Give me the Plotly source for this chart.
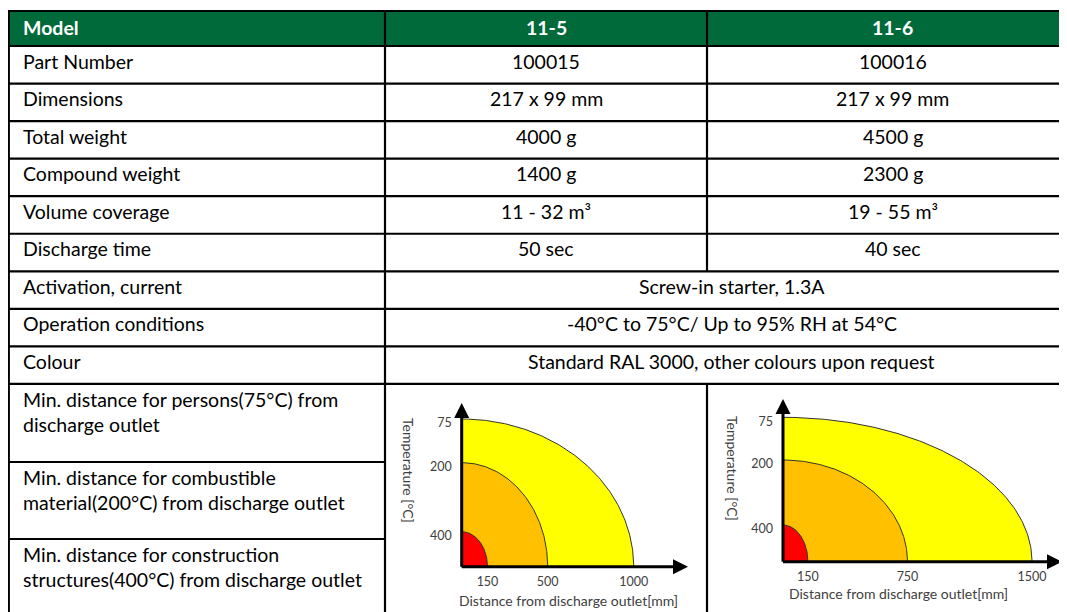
import numpy as np
import plotly.graph_objects as go

# ---------------- data ----------------
header = ["Model", "11-5", "11-6"]
row_labels = ["Part Number", "Dimensions", "Total weight", "Compound weight",
              "Volume coverage", "Discharge time"]
values_11_5 = ["100015", "217 x 99 mm", "4000 g", "1400 g", "11 - 32 m³", "50 sec"]
values_11_6 = ["100016", "217 x 99 mm", "4500 g", "2300 g", "19 - 55 m³", "40 sec"]
shared_labels = ["Activation, current", "Operation conditions", "Colour"]
shared_values = ["Screw-in starter, 1.3A",
                 "-40°C to 75°C/ Up to 95% RH at 54°C",
                 "Standard RAL 3000, other colours upon request"]
distance_labels = [
    ["Min. distance for persons(75°C) from", "discharge outlet"],
    ["Min. distance for combustible", "material(200°C) from discharge outlet"],
    ["Min. distance for construction", "structures(400°C) from discharge outlet"],
]
temp_levels = [400, 200, 75]                 # °C, inner -> outer zone
dist_11_5 = [150, 500, 1000]                 # mm
dist_11_6 = [150, 750, 1500]                 # mm
zone_height_11_5 = [0.21, 0.624, 0.886]      # schematic height (relative)
zone_height_11_6 = [0.22, 0.61, 0.866]
x_title = "Distance from discharge outlet[mm]"
y_title = "Temperature [°C]"

# ---------------- style / layout ----------------
W, H = 1067, 612
OFF = 8                 # page body margin: figure origin sits at screen (8, 8)
FONT = "Lato"
FS = 19.5
GREEN = "#016A3A"
zone_colors = ["#FF0000", "#FFC000", "#FFFF00"]
X0, X1, X2, X3 = 8.8, 385, 707, 1078
HEAD_TOP, HEAD_BOT = 11, 46
ROW_H = 37.55
n_rows = len(row_labels) + len(shared_labels)
CHART_TOP = HEAD_BOT + ROW_H * n_rows
SUB_TOPS = [CHART_TOP, 462, 539]
BOTTOM = 640

fig = go.Figure()

# base coordinate system in screen pixels for the table
fig.update_layout(
    xaxis=dict(range=[OFF, W + OFF], domain=[0, 1], visible=False, fixedrange=True),
    yaxis=dict(range=[H + OFF, OFF], domain=[0, 1], visible=False, fixedrange=True),
)

shapes = []
annotations = []

shapes.append(dict(type="rect", xref="x", yref="y", x0=X0, x1=X3, y0=HEAD_TOP, y1=HEAD_BOT,
                   fillcolor=GREEN, line=dict(width=0), layer="below"))

def hline(y, xa, xb):
    shapes.append(dict(type="line", xref="x", yref="y", x0=xa, x1=xb, y0=y, y1=y,
                       line=dict(color="black", width=2.2)))

def vline(x, ya, yb):
    shapes.append(dict(type="line", xref="x", yref="y", x0=x, x1=x, y0=ya, y1=yb,
                       line=dict(color="black", width=2.2)))

hline(HEAD_TOP, X0 - 1, X3)
hline(HEAD_BOT, X0 - 1, X3)
for i in range(1, n_rows + 1):
    hline(HEAD_BOT + ROW_H * i, X0 - 1, X3)
for y in SUB_TOPS[1:]:
    hline(y, X0 - 1, X1)
vline(X0, HEAD_TOP - 1, BOTTOM)
vline(X1, HEAD_TOP, BOTTOM)
vline(X2, HEAD_TOP, HEAD_BOT + ROW_H * len(row_labels))
vline(X2, CHART_TOP, BOTTOM)

def text(x, y, s, anchor="left", bold=False, color="black", size=FS):
    annotations.append(dict(x=x, y=y, xref="x", yref="y", text=f"<b>{s}</b>" if bold else s,
                            showarrow=False, xanchor=anchor, yanchor="middle",
                            font=dict(family=FONT, size=size, color=color)))

LX = 21
text(LX, HEAD_TOP + 16, header[0], bold=True, color="white")
text((X1 + X2) / 2, HEAD_TOP + 16, header[1], anchor="center", bold=True, color="white")
text((X2 + X3) / 2, HEAD_TOP + 16, header[2], anchor="center", bold=True, color="white")

for i, lab in enumerate(row_labels):
    yc = HEAD_BOT + ROW_H * i + 15
    text(LX, yc, lab)
    text((X1 + X2) / 2, yc, values_11_5[i], anchor="center")
    text((X2 + X3) / 2, yc, values_11_6[i], anchor="center")
for j, lab in enumerate(shared_labels):
    yc = HEAD_BOT + ROW_H * (len(row_labels) + j) + 15
    text(LX, yc, lab)
    text((X1 + X3) / 2, yc, shared_values[j], anchor="center")
for top, lines in zip(SUB_TOPS, distance_labels):
    for k, ln in enumerate(lines):
        text(LX, top + 15.5 + 25 * k, ln)

# ---------------- charts ----------------
def dom_x(a, b):
    return [max(0, (a - OFF) / W), min(1, (b - OFF) / W)]

def dom_y(top, bottom):
    return [max(0, 1 - (bottom - OFF) / H), min(1, 1 - (top - OFF) / H)]

charts = [
    dict(dist=dist_11_5, heights=zone_height_11_5, ox=461.7, oy=566.7, right=700,
         scale=0.172, tipx=688, tipy=403, xa="x2", ya="y2",
         ytitle=(409, 470), xtitle=(568, 600)),
    dict(dist=dist_11_6, heights=zone_height_11_6, ox=783, oy=561.7, right=1070,
         scale=0.166, tipx=1062, tipy=399, xa="x3", ya="y3",
         ytitle=(733, 468), xtitle=(898, 593)),
]
TICKC = "#404040"
t = np.linspace(0, np.pi / 2, 120)
for n, c in enumerate(charts, start=2):
    plot_h = 166.7
    xmax = (c["right"] - c["ox"]) / c["scale"]
    fig.layout[f"xaxis{n}"] = dict(
        domain=dom_x(c["ox"], c["right"]), range=[0, xmax], anchor=c["ya"],
        showgrid=False, zeroline=False, showline=False, ticks="",
        tickvals=c["dist"], ticktext=[str(v) for v in c["dist"]],
        tickfont=dict(family=FONT, size=12.5, color=TICKC), ticklabelstandoff=6,
        fixedrange=True)
    fig.layout[f"yaxis{n}"] = dict(
        domain=dom_y(c["oy"] - plot_h, c["oy"]), range=[0, 1], anchor=c["xa"],
        showgrid=False, zeroline=False, showline=False, ticks="",
        tickvals=c["heights"], ticktext=[str(v) for v in temp_levels],
        tickfont=dict(family=FONT, size=12.5, color=TICKC), ticklabelstandoff=9,
        ticklabelshift=4, fixedrange=True)
    for d, h, col in sorted(zip(c["dist"], c["heights"], zone_colors), key=lambda z: -z[0]):
        xs = np.concatenate([[0], d * np.cos(t), [0]])
        ys = np.concatenate([[0], h * np.sin(t), [0]])
        fig.add_trace(go.Scatter(x=xs, y=ys, xaxis=c["xa"], yaxis=c["ya"], mode="lines",
                                 fill="toself", fillcolor=col,
                                 line=dict(color="#333333", width=1),
                                 hoverinfo="skip", showlegend=False))
    tipx = (c["tipx"] - c["ox"]) / c["scale"]
    tipy = (c["oy"] - c["tipy"]) / plot_h
    startx = -1.5 / c["scale"]
    starty = -1.5 / plot_h
    for (x, y, ax, ay) in [(tipx, 0, startx, 0), (0, tipy, 0, starty)]:
        annotations.append(dict(x=x, y=y, xref=c["xa"], yref=c["ya"], ax=ax, ay=ay,
                                axref=c["xa"], ayref=c["ya"], text="", showarrow=True,
                                arrowhead=2, arrowsize=1, arrowwidth=3, arrowcolor="black"))
    annotations.append(dict(x=c["ytitle"][0], y=c["ytitle"][1], xref="x", yref="y",
                            text=y_title, textangle=90, showarrow=False,
                            font=dict(family=FONT, size=14, color=TICKC)))
    annotations.append(dict(x=c["xtitle"][0], y=c["xtitle"][1], xref="x", yref="y",
                            text=x_title, showarrow=False,
                            font=dict(family=FONT, size=14, color=TICKC)))

fig.update_layout(
    width=W, height=H, margin=dict(l=0, r=0, t=0, b=0),
    paper_bgcolor="white", plot_bgcolor="rgba(0,0,0,0)",
    shapes=shapes, annotations=annotations, showlegend=False,
)
fig.write_html("out.html")
